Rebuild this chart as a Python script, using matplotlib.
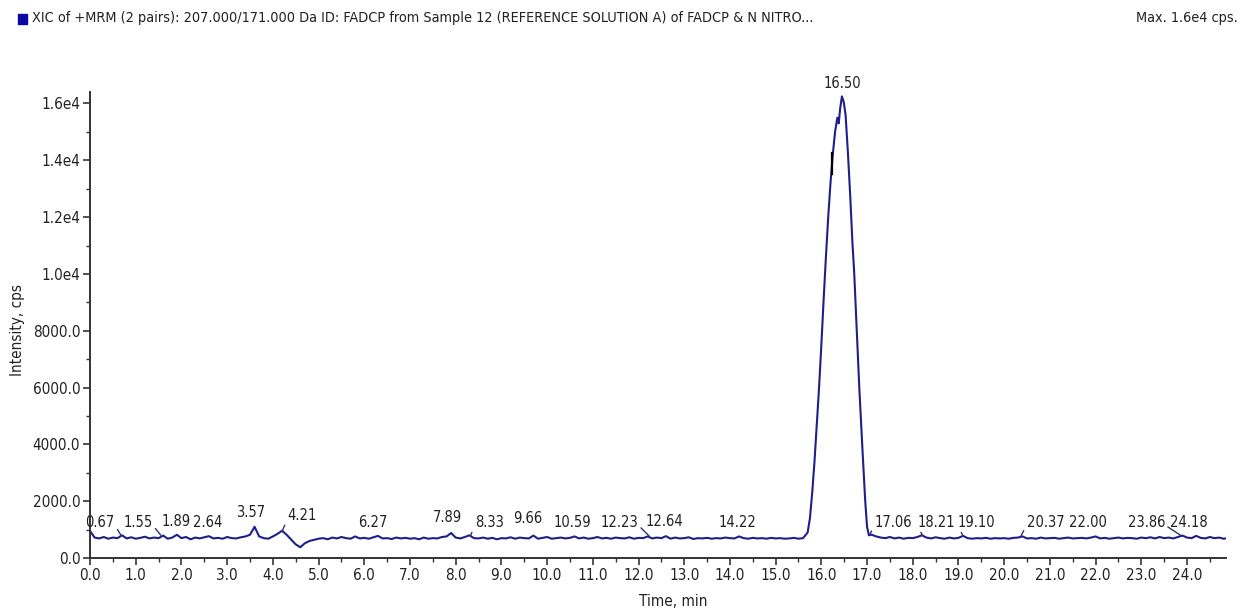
import numpy as np
import matplotlib
matplotlib.use("Agg")
import matplotlib.pyplot as plt
from matplotlib.patches import Rectangle

# the reference uses a narrow sans, DejaVu Sans Condensed is the closest here
plt.rcParams["font.family"] = ["DejaVu Sans"]
plt.rcParams["font.stretch"] = "condensed"

# baseline before the peak, sampled every 0.1 min from 0.0 to 15.6
base1_values = [
    950, 720, 690, 740, 680, 720, 700, 800, 690, 730,
    680, 710, 750, 690, 720, 700, 790, 680, 720, 820,
    700, 740, 660, 720, 690, 730, 770, 690, 710, 680,
    740, 700, 690, 730, 760, 820, 1100, 760, 700, 680,
    760, 850, 960, 820, 650, 480, 380, 520, 600, 640,
    680, 700, 660, 720, 690, 740, 700, 680, 760, 690,
    710, 680, 730, 780, 690, 700, 670, 720, 690, 710,
    680, 700, 660, 720, 680, 700, 690, 740, 760, 880,
    720, 690, 740, 800, 700, 690, 720, 680, 710, 660,
    700, 690, 730, 680, 720, 700, 690, 790, 680, 710,
    740, 680, 700, 720, 690, 710, 760, 690, 720, 680,
    700, 740, 690, 710, 680, 720, 700, 690, 730, 680,
    710, 700, 760, 690, 720, 700, 770, 680, 720, 690,
    700, 730, 670, 700, 690, 710, 680, 700, 690, 720,
    700, 690, 760, 700, 680, 710, 690, 700, 680, 710,
    690, 700, 680, 690, 710, 680, 700,
]
base1_start = 0.0

# main peak (FADCP)
peak_time = [15.65, 15.70, 15.75, 15.80, 15.85, 15.90, 15.95, 16.00, 16.05,
             16.10, 16.15, 16.20, 16.25, 16.30, 16.35, 16.38, 16.41, 16.45,
             16.49, 16.53, 16.58, 16.63, 16.68, 16.72, 16.77, 16.83, 16.90,
             16.96, 17.00, 17.04]
peak_values = [800, 900, 1400, 2300, 3400, 4700, 6000, 7500, 9100,
               10600, 12000, 13200, 14200, 15000, 15500, 15300, 15800, 16250,
               16050, 15600, 14300, 12800, 11100, 10000, 8200, 6000, 3800,
               2000, 1100, 800]

# baseline after the peak, every 0.1 min from 17.1 to 24.9
base2_values = [
    820, 760, 720, 700, 740, 690, 720, 680, 710, 700,
    740, 800, 720, 690, 730, 700, 680, 720, 690, 710,
    780, 700, 680, 700, 690, 710, 680, 700, 690, 700,
    680, 710, 720, 760, 690, 700, 680, 720, 690, 700,
    710, 680, 700, 720, 690, 700, 710, 690, 720, 760,
    690, 710, 680, 700, 720, 690, 710, 700, 680, 720,
    700, 730, 690, 740, 700, 720, 690, 740, 790, 720,
    700, 780, 710, 690, 740, 700, 720, 680, 700,
]
base2_start = 17.1

# peak labels: text, label position (min, cps)
label_text = ["0.67", "1.55", "1.89", "2.64", "3.57", "4.21", "6.27", "7.89",
              "8.33", "9.66", "10.59", "12.23", "12.64", "14.22", "16.50",
              "17.06", "18.21", "19.10", "20.37", "22.00", "23.86", "24.18"]
label_x = [0.22, 1.05, 1.88, 2.58, 3.52, 4.64, 6.19, 7.81,
           8.73, 9.58, 10.55, 11.58, 12.56, 14.16, 16.45,
           17.57, 18.51, 19.39, 20.90, 21.84, 23.11, 24.05]
label_y = [1265, 1265, 1300, 1250, 1620, 1510, 1265, 1440,
           1265, 1400, 1250, 1265, 1300, 1265, 16700,
           1265, 1265, 1265, 1265, 1265, 1265, 1265]
# labels that have a leader to their peak
leader_text = ["0.67", "1.55", "4.21", "8.33", "12.23", "17.06", "18.21",
               "19.10", "20.37", "23.86"]
leader_peak_t = [0.67, 1.55, 4.21, 8.33, 12.23, 17.06, 18.21, 19.10, 20.37, 23.86]
leader_peak_y = [820, 800, 960, 800, 780, 820, 800, 780, 780, 800]

# small integration mark on the rising edge
mark_t = 16.24
mark_lo, mark_hi = 13500, 14250

trace_color = "#1f1f8c"
text_color = "#222222"

t1 = base1_start + 0.1 * np.arange(len(base1_values))
t2 = base2_start + 0.1 * np.arange(len(base2_values))
time = np.concatenate([t1, peak_time, t2])
intensity = np.concatenate([base1_values, peak_values, base2_values])

fig = plt.figure(figsize=(12.42, 6.10), dpi=100)
ax = fig.add_axes([0.0725, 0.0852, 0.9145, 0.7638])

ax.plot(time, intensity, color=trace_color, lw=1.5)
ax.plot([mark_t, mark_t], [mark_lo, mark_hi], color="black", lw=1.6)

ax.set_xlim(0, 24.85)
ax.set_ylim(0, 16400)

for side in ["top", "right"]:
    ax.spines[side].set_visible(False)
for side in ["left", "bottom"]:
    ax.spines[side].set_color("#333333")
    ax.spines[side].set_linewidth(1.4)

ax.xaxis.set_minor_locator(plt.MultipleLocator(0.5))
ax.yaxis.set_minor_locator(plt.MultipleLocator(1000))

xt = np.arange(0, 25, 1.0)
ax.set_xticks(xt)
ax.set_xticklabels([f"{v:.1f}" for v in xt])
yt = np.arange(0, 16001, 2000)
ax.set_yticks(yt)
ax.set_yticklabels(["0.0", "2000.0", "4000.0", "6000.0", "8000.0",
                    "1.0e4", "1.2e4", "1.4e4", "1.6e4"])

ax.tick_params(axis="both", which="major", direction="out", length=5,
               width=1.2, color="#333333", labelsize=11, labelcolor=text_color, pad=2)
ax.tick_params(axis="both", which="minor", direction="out", length=3,
               width=1.0, color="#333333")

for txt, x, y in zip(label_text, label_x, label_y):
    if txt in leader_text:
        i = leader_text.index(txt)
        px, py = leader_peak_t[i], leader_peak_y[i]
        rel = (1.0, 0.3) if px > x else (0.0, 0.3)
        ax.annotate(txt, xy=(px, py), xytext=(x, y), ha="center", va="center",
                    fontsize=10.5, color=text_color,
                    arrowprops=dict(arrowstyle="-", color="#333366", lw=1.0,
                                    relpos=rel, shrinkA=0, shrinkB=0))
    else:
        ax.text(x, y, txt, ha="center", va="center", fontsize=10.5,
                color=text_color, clip_on=False)

fig.text(18 / 1242, 1 - 330 / 610, "Intensity, cps", rotation=90,
         ha="center", va="center", fontsize=11, color=text_color)
fig.text(673 / 1242, 1 - 602 / 610, "Time, min", ha="center", va="center",
         fontsize=11, color=text_color)

fig.patches.append(Rectangle((18 / 1242, 1 - 24 / 610), 9 / 1242, 10 / 610,
                             transform=fig.transFigure, color="#0a0aa0"))
fig.text(32 / 1242, 1 - 18 / 610,
         "XIC of +MRM (2 pairs): 207.000/171.000 Da ID: FADCP from Sample 12 "
         "(REFERENCE SOLUTION A) of FADCP & N NITRO...",
         ha="left", va="center", fontsize=10.4, color=text_color)
fig.text(1238 / 1242, 1 - 18 / 610, "Max. 1.6e4 cps.", ha="right", va="center",
         fontsize=10.4, color=text_color)

fig.savefig("out.png", dpi=100)
plt.close(fig)
